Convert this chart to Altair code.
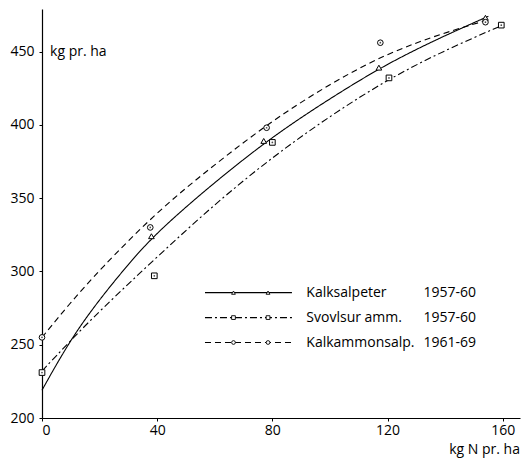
import altair as alt
import pandas as pd

# Observed points (kg N pr. ha, kg pr. ha)
dose_k = [38, 77, 117, 154]
yield_k = [324, 389, 439, 473]
dose_s = [0, 39, 80, 120.5, 159.5]
yield_s = [231, 297, 388, 432, 468]
dose_c = [0, 37.6, 78, 117.5, 154]
yield_c = [255, 330, 398, 456, 470]

# Fitted curves
curve_x_k = [0, 10, 20, 30, 40, 60, 80, 100, 120, 140, 155]
curve_k = [219, 254, 281, 305, 327, 361, 392, 418, 442, 461, 474]
curve_x_s = [0, 10, 20, 40, 60, 80, 100, 120, 140, 160]
curve_s = [232, 253, 273, 310, 346, 378, 406, 431, 451, 468]
curve_x_c = [0, 10, 20, 40, 60, 80, 100, 120, 140, 154]
curve_c = [255, 279, 301, 341, 373, 403, 428, 449, 463, 471]

series_names = ["Kalksalpeter", "Svovlsur  amm.", "Kalkammonsalp."]
series_years = ["1957-60", "1957-60", "1961-69"]
legend_y = [285.5, 268.5, 251.5]
x_ticks = [0, 40, 80, 120, 160]
y_ticks = [200, 250, 300, 350, 400, 450]

FONT = "Open Sans"
xs = alt.Scale(domain=[0, 166], nice=False, zero=False)
ys = alt.Scale(domain=[200, 479], nice=False, zero=False)
x_axis = alt.Axis(values=x_ticks, title=None)
y_axis = alt.Axis(values=y_ticks, title=None)

dashes = [[1, 0], [7, 3, 2, 3], [6, 4]]
shapes = ["triangle-up", "square", "circle"]


def X(field):
    return alt.X(field, type="quantitative", scale=xs, axis=x_axis)


def Y(field):
    return alt.Y(field, type="quantitative", scale=ys, axis=y_axis)


layers = []
curves = [(curve_x_k, curve_k), (curve_x_s, curve_s), (curve_x_c, curve_c)]
points = [(dose_k, yield_k), (dose_s, yield_s), (dose_c, yield_c)]
for i in range(3):
    cdf = pd.DataFrame({"x": curves[i][0], "y": curves[i][1]})
    layers.append(
        alt.Chart(cdf).mark_line(interpolate="basis", color="black",
                                 strokeWidth=1.1, strokeDash=dashes[i])
        .encode(x=X("x"), y=Y("y"))
    )
for i in range(3):
    pdf = pd.DataFrame({"x": points[i][0], "y": points[i][1]})
    layers.append(
        alt.Chart(pdf).mark_point(shape=shapes[i], size=32, filled=False,
                                  color="black", strokeWidth=1, fill="white", fillOpacity=1)
        .encode(x=X("x"), y=Y("y"))
    )
# small dots inside the square and circle markers
for i in (1, 2):
    pdf = pd.DataFrame({"x": points[i][0], "y": points[i][1]})
    layers.append(
        alt.Chart(pdf).mark_point(shape="circle", size=3, filled=True, color="black")
        .encode(x=X("x"), y=Y("y"))
    )

# Legend drawn inside the plot
leg = pd.DataFrame({"x1": [56.6] * 3, "x2": [86.8] * 3, "y": legend_y,
                    "tx": [91.8] * 3, "yx": [150.7] * 3,
                    "name": series_names, "year": series_years})
legend_marker_x = [66.5, 78.5]
for i in range(3):
    row = leg.iloc[[i]]
    layers.append(
        alt.Chart(row).mark_rule(color="black", strokeWidth=1.1, strokeDash=dashes[i])
        .encode(x=X("x1"), x2="x2", y=Y("y"))
    )
    mk = pd.DataFrame({"x": legend_marker_x, "y": [legend_y[i]] * 2})
    layers.append(
        alt.Chart(mk).mark_point(shape=shapes[i], size=14, filled=False, color="black",
                                 strokeWidth=0.9, fill="white", fillOpacity=1)
        .encode(x=X("x"), y=Y("y"))
    )
layers.append(
    alt.Chart(leg).mark_text(align="left", baseline="middle", font=FONT, fontSize=14, color="black")
    .encode(x=X("tx"), y=Y("y"), text="name:N")
)
layers.append(
    alt.Chart(leg).mark_text(align="right", baseline="middle", font=FONT, fontSize=14, color="black")
    .encode(x=X("yx"), y=Y("y"), text="year:N")
)

# Axis titles as annotations
ann = pd.DataFrame({"x": [2.8, 166], "y": [450, 178],
                    "t": ["kg pr. ha", "kg N pr. ha"]})
layers.append(
    alt.Chart(ann.iloc[[0]]).mark_text(align="left", baseline="middle", font=FONT, fontSize=14, color="black")
    .encode(x=X("x"), y=Y("y"), text="t:N")
)
layers.append(
    alt.Chart(ann.iloc[[1]]).mark_text(align="right", baseline="middle", font=FONT, fontSize=14, color="black")
    .encode(x=X("x"), y=Y("y"), text="t:N")
)

chart = (
    alt.layer(*layers)
    .properties(width=478, height=409,
                padding={"left": 42, "top": 9, "right": 2, "bottom": 40},
                autosize=alt.AutoSizeParams(type="none"),
                background="white")
    .configure_view(stroke=None)
    .configure_axis(grid=False, labelFont=FONT, labelFontSize=14, labelColor="black",
                    domainColor="black", domainWidth=1.2, tickColor="black",
                    tickSize=3, tickWidth=1)
    .configure_axisX(labelPadding=2)
    .configure_axisY(labelPadding=5)
)

chart.save("out.html", embed_options={"renderer": "svg", "actions": False})
